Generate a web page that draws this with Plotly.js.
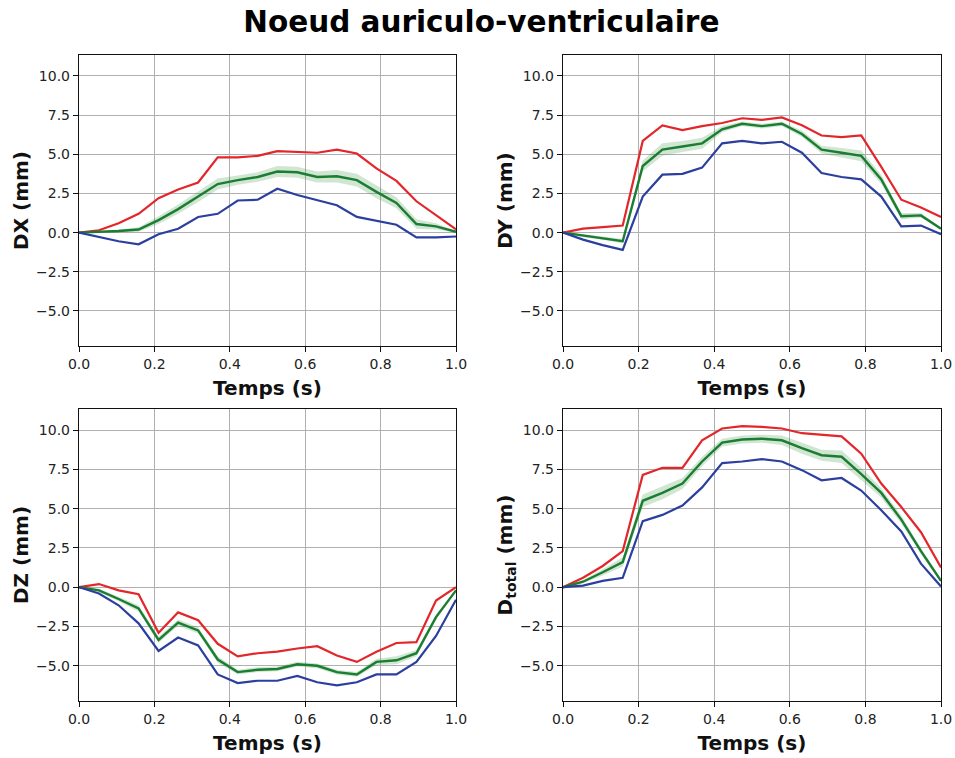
<!DOCTYPE html>
<html>
<head>
<meta charset="utf-8">
<script src="https://cdn.plot.ly/plotly-3.0.1.min.js"></script>
<style>html,body{margin:0;padding:0;background:#fff;}#chart{width:955px;height:758px;}</style>
</head>
<body>
<div id="chart"></div>
<script>
const time = [0.000,0.053,0.105,0.158,0.211,0.263,0.316,0.368,0.421,0.474,0.526,0.579,0.632,0.684,0.737,0.789,0.842,0.895,0.947,1.000];

const dxMax  = [0,0.15,0.6,1.2,2.2,2.75,3.2,4.8,4.8,4.9,5.2,5.15,5.1,5.3,5.05,4.1,3.3,2.0,1.1,0.2];
const dxMean = [0,0.05,0.1,0.2,0.8,1.5,2.3,3.1,3.35,3.55,3.9,3.85,3.55,3.6,3.35,2.6,1.9,0.55,0.4,0.05];
const dxMin  = [0,-0.3,-0.55,-0.75,-0.1,0.25,1.0,1.2,2.05,2.1,2.8,2.4,2.05,1.75,1.0,0.75,0.5,-0.3,-0.3,-0.25];
const dxSd   = [0,0.05,0.1,0.15,0.25,0.3,0.35,0.35,0.3,0.3,0.35,0.35,0.35,0.4,0.4,0.4,0.35,0.3,0.2,0.05];

const dyMax  = [0,0.25,0.35,0.45,5.85,6.85,6.55,6.8,7.0,7.3,7.2,7.35,6.85,6.2,6.1,6.2,4.2,2.1,1.6,1.0];
const dyMean = [0,-0.2,-0.35,-0.55,4.25,5.3,5.5,5.7,6.6,6.95,6.8,6.95,6.3,5.3,5.1,4.9,3.4,1.05,1.1,0.25];
const dyMin  = [0,-0.45,-0.8,-1.1,2.3,3.7,3.75,4.15,5.7,5.85,5.7,5.8,5.1,3.8,3.55,3.4,2.3,0.4,0.45,-0.1];
const dySd   = [0,0.1,0.1,0.15,0.35,0.4,0.35,0.35,0.2,0.15,0.15,0.15,0.2,0.25,0.3,0.35,0.3,0.2,0.15,0.05];

const dzMax  = [0,0.2,-0.2,-0.45,-2.9,-1.6,-2.1,-3.6,-4.4,-4.2,-4.1,-3.9,-3.75,-4.35,-4.75,-4.1,-3.55,-3.5,-0.85,0.0];
const dzMean = [0,-0.2,-0.75,-1.35,-3.35,-2.25,-2.75,-4.6,-5.4,-5.25,-5.2,-4.9,-5.0,-5.4,-5.55,-4.75,-4.65,-4.2,-1.9,-0.2];
const dzMin  = [0,-0.4,-1.15,-2.3,-4.05,-3.2,-3.7,-5.55,-6.1,-5.95,-5.95,-5.65,-6.05,-6.25,-6.05,-5.55,-5.55,-4.75,-3.1,-0.8];
const dzSd   = [0,0.1,0.15,0.2,0.2,0.2,0.2,0.2,0.15,0.15,0.15,0.15,0.15,0.15,0.15,0.2,0.25,0.2,0.15,0.05];

const dtMax  = [0,0.6,1.35,2.3,7.15,7.6,7.6,9.35,10.1,10.25,10.2,10.1,9.8,9.7,9.6,8.5,6.6,5.1,3.5,1.25];
const dtMean = [0,0.35,0.95,1.6,5.5,6.0,6.6,8.0,9.2,9.4,9.45,9.35,8.85,8.4,8.3,7.2,6.0,4.3,2.3,0.4];
const dtMin  = [0,0.1,0.4,0.6,4.2,4.6,5.2,6.35,7.9,8.0,8.15,8.0,7.45,6.8,6.95,6.15,4.9,3.55,1.5,0.05];
const dtSd   = [0,0.1,0.2,0.3,0.4,0.4,0.35,0.3,0.25,0.25,0.25,0.3,0.35,0.35,0.4,0.4,0.3,0.25,0.2,0.1];

const yTitles = ['DX (mm)', 'DY (mm)', 'DZ (mm)', 'D<sub>total</sub> (mm)'];
const xTitle = 'Temps (s)';
const mainTitle = 'Noeud auriculo-ventriculaire';

const panels = [
  [dxMax, dxMean, dxMin, dxSd],
  [dyMax, dyMean, dyMin, dySd],
  [dzMax, dzMean, dzMin, dzSd],
  [dtMax, dtMean, dtMin, dtSd]
];

const RED = '#e3262a', GREEN = '#1a7d32', BLUE = '#2b3f9e';
const traces = [];
panels.forEach((p, i) => {
  const xa = i === 0 ? 'x' : 'x' + (i + 1);
  const ya = i === 0 ? 'y' : 'y' + (i + 1);
  const [mx, mean, mn, sd] = p;
  const lo = mean.map((v, k) => v - sd[k]);
  const hi = mean.map((v, k) => v + sd[k]);
  traces.push({x: time, y: lo, xaxis: xa, yaxis: ya, mode: 'lines', line: {width: 0, color: 'rgba(0,0,0,0)'}, hoverinfo: 'skip', showlegend: false});
  traces.push({x: time, y: hi, xaxis: xa, yaxis: ya, mode: 'lines', line: {width: 0, color: 'rgba(0,0,0,0)'}, fill: 'tonexty', fillcolor: 'rgba(40,140,50,0.22)', hoverinfo: 'skip', showlegend: false});
  traces.push({x: time, y: mx, xaxis: xa, yaxis: ya, mode: 'lines', line: {width: 2.2, color: RED}, showlegend: false});
  traces.push({x: time, y: mean, xaxis: xa, yaxis: ya, mode: 'lines', line: {width: 2.4, color: GREEN}, showlegend: false});
  traces.push({x: time, y: mn, xaxis: xa, yaxis: ya, mode: 'lines', line: {width: 2.2, color: BLUE}, showlegend: false});
});

const W = 955, H = 758;
const xDomL = [79 / W, 456 / W], xDomR = [563 / W, 941 / W];
const yDomT = [1 - 346 / H, 1 - 55 / H], yDomB = [1 - 701 / H, 1 - 409 / H];
const font = {family: 'DejaVu Sans', size: 14, color: '#222'};

function xax(dom, anchor) {
  return {domain: dom, anchor: anchor, range: [0, 1], tickvals: [0, 0.2, 0.4, 0.6, 0.8, 1.0], tickformat: '.1f',
    showgrid: true, gridcolor: '#b0b0b0', gridwidth: 1, zeroline: false,
    showline: true, mirror: true, linecolor: '#111', linewidth: 1.2,
    ticks: 'outside', ticklen: 5, tickcolor: '#111', tickfont: font,
    title: {text: xTitle, font: {family: 'DejaVu Sans', size: 20, color: '#111', weight: 'bold'}, standoff: 10}};
}
function yax(dom, anchor, t) {
  return {domain: dom, anchor: anchor, range: [-7.24, 11.34], tickvals: [-5, -2.5, 0, 2.5, 5, 7.5, 10], tickformat: '.1f',
    showgrid: true, gridcolor: '#b0b0b0', gridwidth: 1, zeroline: false,
    showline: true, mirror: true, linecolor: '#111', linewidth: 1.2,
    ticks: 'outside', ticklen: 5, tickcolor: '#111', tickfont: font,
    title: {text: t, font: {family: 'DejaVu Sans', size: 20, color: '#111', weight: 'bold'}, standoff: 2}};
}

const layout = {
  width: W, height: H,
  margin: {l: 0, r: 0, t: 0, b: 0},
  paper_bgcolor: '#fff', plot_bgcolor: '#fff',
  font: font,
  title: {text: '<b>' + mainTitle + '</b>', font: {family: 'DejaVu Sans', size: 29.5, color: '#000'}, x: 0.504, xanchor: 'center', y: 1 - 22 / H, yanchor: 'middle', yref: 'paper'},
  xaxis: xax(xDomL, 'y'), yaxis: yax(yDomT, 'x', yTitles[0]),
  xaxis2: xax(xDomR, 'y2'), yaxis2: yax(yDomT, 'x2', yTitles[1]),
  xaxis3: xax(xDomL, 'y3'), yaxis3: yax(yDomB, 'x3', yTitles[2]),
  xaxis4: xax(xDomR, 'y4'), yaxis4: yax(yDomB, 'x4', yTitles[3]),
  showlegend: false
};

Plotly.newPlot('chart', traces, layout, {displayModeBar: false, staticPlot: true});
</script>
</body>
</html>
